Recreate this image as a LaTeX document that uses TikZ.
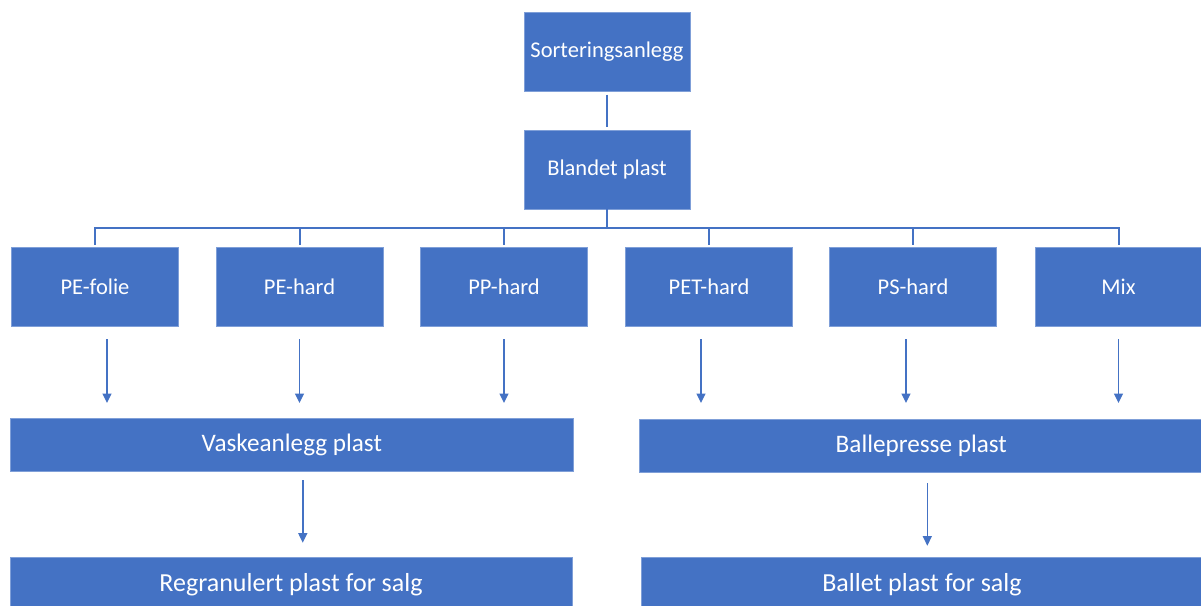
\documentclass[tikz,border=0pt]{standalone}
\usepackage{fontspec}
\setmainfont{Carlito}
\usetikzlibrary{arrows.meta,calc}
\definecolor{obl}{HTML}{4472C4}
\definecolor{oedge}{HTML}{7F9FD8}
\begin{document}
\begin{tikzpicture}[x=1pt,y=-1pt,
  box/.style={rectangle,fill=obl,draw=oedge,line width=0.7pt,text=white,inner sep=0pt,outer sep=0pt,align=center},
  topbox/.style={box,minimum width=166pt,minimum height=79pt,font=\fontsize{22.5}{26}\selectfont},
  kidbox/.style={box,minimum width=167pt,minimum height=79.5pt,font=\fontsize{22.5}{26}\selectfont},
  midbox/.style={box,minimum width=563.6pt,minimum height=53pt,font=\fontsize{25.2}{29}\selectfont},
  endbox/.style={box,minimum width=562pt,minimum height=53pt,font=\fontsize{26}{30}\selectfont},
  bus/.style={draw=obl,line width=2pt},
  arr/.style={draw=obl,line width=1.4pt,-{Triangle[width=9pt,length=9.5pt]}}]
\useasboundingbox (0,0) rectangle (1201,605);
\node[topbox] (sort) at (607,52) {Sorteringsanlegg};
\node[topbox] (bland) at (607,169.5) {Blandet plast};
\node[kidbox] (pef) at (95,286.7) {PE-folie};
\node[kidbox] (peh) at (299.5,286.7) {PE-hard};
\node[kidbox] (pph) at (504,286.7) {PP-hard};
\node[kidbox] (peth) at (709,286.7) {PET-hard};
\node[kidbox] (psh) at (913,286.7) {PS-hard};
\node[kidbox] (mix) at (1118.5,286.7) {Mix};
\node[midbox] (vask) at (291.8,444.5) {Vaskeanlegg plast};
\node[midbox] (balle) at (921.3,445.5) {Ballepresse plast};
\node[endbox] (regr) at (291,584.2) {Regranulert plast for salg};
\node[endbox] (ballet) at (922,584.2) {Ballet plast for salg};
% tree connectors
\draw[bus,shorten <=3pt,shorten >=3pt] (sort.south) -- (bland.north);
\coordinate (busc) at ($(bland.south)+(0,19)$);
\draw[bus] (bland.south) -- (busc);
\foreach \k in {pef,peh,pph,peth,psh,mix}{
  \draw[bus,shorten >=2pt] (busc) -| (\k.north);
}
% arrows to processing
\foreach \k/\dx in {pef/12,peh/0,pph/0}{
  \draw[arr] ($(\k.south)+(\dx,13)$) -- ($(\k.south |- vask.north)+(\dx,-15)$);
}
\foreach \k/\dx in {peth/-8,psh/-7,mix/0}{
  \draw[arr] ($(\k.south)+(\dx,13)$) -- ($(\k.south |- balle.north)+(\dx,-16)$);
}
\draw[arr] ($(vask.south)+(11,9)$) -- ($(vask.south |- regr.north)+(11,-15)$);
\draw[arr] ($(balle.south)+(6,11)$) -- ($(balle.south |- ballet.north)+(6,-12)$);
\end{tikzpicture}
\end{document}
